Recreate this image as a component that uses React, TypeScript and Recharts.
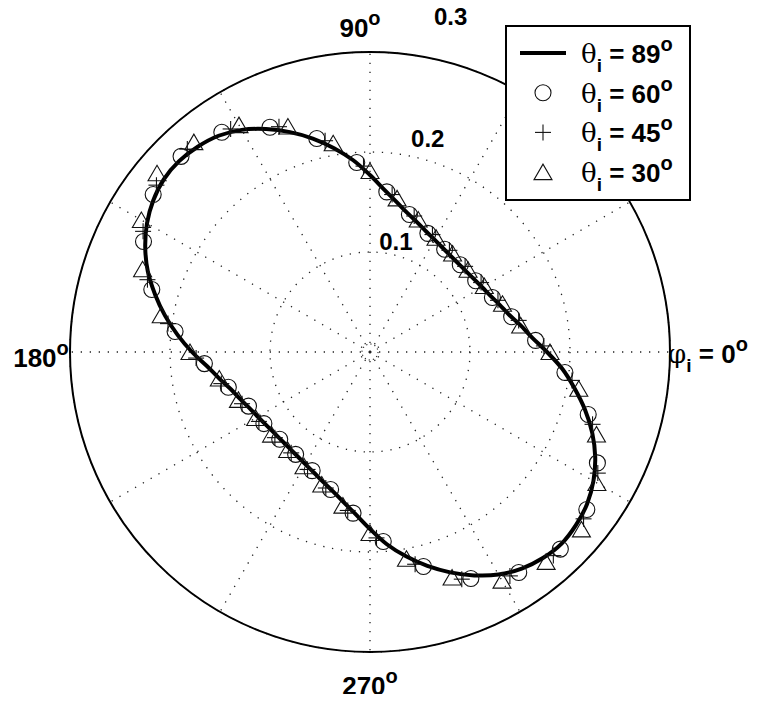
import React from 'react';
import { RadarChart, Radar, PolarGrid, PolarAngleAxis, PolarRadiusAxis, Legend } from 'recharts';

const W = 758;
const H = 702;
const CX = 370;
const CY = 352;
const OUTER = 300;
const LABEL_R = 330;

// azimuth samples (deg) and radial values for each incidence angle
const PHI_89 = [
  0, 5, 10, 15, 20, 25, 30, 35, 40, 45, 50, 55, 60, 65, 70, 75, 80, 85,
  90, 95, 100, 105, 110, 115, 120, 125, 130, 135, 140, 145, 150, 155, 160, 165, 170, 175,
  180, 185, 190, 195, 200, 205, 210, 215, 220, 225, 230, 235, 240, 245, 250, 255, 260, 265,
  270, 275, 280, 285, 290, 295, 300, 305, 310, 315, 320, 325, 330, 335, 340, 345, 350, 355,
];
const R_89 = [
  0.177, 0.163, 0.153, 0.144, 0.138, 0.133, 0.1295, 0.127, 0.1255, 0.125, 0.1255, 0.127, 0.1295, 0.133, 0.138, 0.144, 0.1525, 0.163,
  0.177, 0.1925, 0.207, 0.221, 0.234, 0.246, 0.2565, 0.264, 0.268, 0.270, 0.269, 0.2645, 0.2575, 0.248, 0.2365, 0.2225, 0.208, 0.193,
  0.178, 0.1635, 0.153, 0.144, 0.138, 0.133, 0.1295, 0.127, 0.1255, 0.125, 0.1255, 0.127, 0.1295, 0.133, 0.138, 0.144, 0.1525, 0.163,
  0.177, 0.193, 0.2075, 0.2215, 0.2345, 0.2465, 0.257, 0.2645, 0.269, 0.271, 0.269, 0.265, 0.258, 0.2485, 0.2365, 0.2225, 0.2075, 0.193,
];

const PHI_60 = [
  4, 14, 24, 34, 44, 54, 64, 74, 84, 94, 104, 114, 124, 134, 144, 154, 164, 174,
  184, 194, 204, 214, 224, 234, 244, 254, 264, 274, 284, 294, 304, 314, 324, 334, 344, 354,
];
const R_60 = [
  0.166, 0.146, 0.134, 0.1275, 0.1255, 0.127, 0.132, 0.143, 0.161, 0.190, 0.220, 0.246, 0.265, 0.272, 0.268, 0.252, 0.227, 0.196,
  0.166, 0.146, 0.133, 0.128, 0.1255, 0.1265, 0.132, 0.143, 0.162, 0.190, 0.221, 0.248, 0.266, 0.274, 0.268, 0.253, 0.227, 0.196,
];

const PHI_45 = [
  2, 12, 22, 32, 42, 52, 62, 72, 82, 92, 102, 112, 122, 132, 142, 152, 162, 172,
  182, 192, 202, 212, 222, 232, 242, 252, 262, 272, 282, 292, 302, 312, 322, 332, 342, 352,
];
const R_45 = [
  0.174, 0.152, 0.138, 0.131, 0.128, 0.129, 0.133, 0.143, 0.159, 0.186, 0.216, 0.243, 0.263, 0.273, 0.271, 0.257, 0.234, 0.204,
  0.174, 0.152, 0.138, 0.131, 0.128, 0.128, 0.133, 0.143, 0.160, 0.186, 0.217, 0.245, 0.264, 0.274, 0.271, 0.258, 0.234, 0.204,
];

const PHI_30 = [
  0, 10, 20, 30, 40, 50, 60, 70, 80, 90, 100, 110, 120, 130, 140, 150, 160, 170,
  180, 190, 200, 210, 220, 230, 240, 250, 260, 270, 280, 290, 300, 310, 320, 330, 340, 350,
];
const R_30 = [
  0.180, 0.153, 0.141, 0.132, 0.128, 0.1285, 0.132, 0.141, 0.156, 0.181, 0.212, 0.240, 0.262, 0.274, 0.278, 0.264, 0.242, 0.212,
  0.180, 0.153, 0.140, 0.132, 0.1285, 0.128, 0.132, 0.141, 0.156, 0.181, 0.210, 0.240, 0.264, 0.274, 0.276, 0.262, 0.241, 0.212,
];

const ANGLE_TICKS = [0, 30, 60, 90, 120, 150, 180, 210, 240, 270, 300, 330];
const LABELED_ANGLES = [0, 90, 180, 270];
const RADIUS_TICKS = [0.1, 0.2, 0.3];
const R_MAX = 0.3;

const SERIES = [
  { key: 'r89', theta: 89, marker: 'line' },
  { key: 'r60', theta: 60, marker: 'circle' },
  { key: 'r45', theta: 45, marker: 'plus' },
  { key: 'r30', theta: 30, marker: 'triangle' },
];

const rowsByPhi = new Map<number, any>();
const addSeries = (key: string, phis: number[], values: number[]) => {
  phis.forEach((phi, i) => {
    const row = rowsByPhi.get(phi) ?? { phi };
    row[key] = values[i];
    rowsByPhi.set(phi, row);
  });
};
addSeries('r89', PHI_89, R_89);
addSeries('r60', PHI_60, R_60);
addSeries('r45', PHI_45, R_45);
addSeries('r30', PHI_30, R_30);
const data = [...rowsByPhi.values()].sort((a, b) => a.phi - b.phi);

const FONT = '"Liberation Sans", Arial, Helvetica, sans-serif';
const SERIF = '"DejaVu Serif", "Liberation Serif", serif';

const hasValue = (p: any) => typeof p?.value === 'number' && Number.isFinite(p.x) && Number.isFinite(p.y);

// closed Catmull-Rom curve through the radar points
const smoothClosedPath = (pts: { x: number; y: number }[]) => {
  const n = pts.length;
  if (n < 3) return '';
  let d = `M${pts[0].x},${pts[0].y}`;
  for (let i = 0; i < n; i++) {
    const p0 = pts[(i - 1 + n) % n];
    const p1 = pts[i];
    const p2 = pts[(i + 1) % n];
    const p3 = pts[(i + 2) % n];
    const c1x = p1.x + (p2.x - p0.x) / 6;
    const c1y = p1.y + (p2.y - p0.y) / 6;
    const c2x = p2.x - (p3.x - p1.x) / 6;
    const c2y = p2.y - (p3.y - p1.y) / 6;
    d += ` C${c1x},${c1y} ${c2x},${c2y} ${p2.x},${p2.y}`;
  }
  return d + 'Z';
};

const LineShape = (props: any) => {
  const pts = (props.points || []).filter(hasValue);
  return <path d={smoothClosedPath(pts)} fill="none" stroke="#000" strokeWidth={4} strokeLinejoin="round" />;
};

const MarkerGlyph = ({ kind, x, y }: { kind: string; x: number; y: number }) => {
  const s = { fill: 'none', stroke: '#111', strokeWidth: 1.1 };
  if (kind === 'circle') return <circle cx={x} cy={y} r={8} {...s} />;
  if (kind === 'plus')
    return (
      <g {...s}>
        <line x1={x - 8} y1={y} x2={x + 8} y2={y} />
        <line x1={x} y1={y - 8} x2={x} y2={y + 8} />
      </g>
    );
  if (kind === 'triangle')
    return <polygon points={`${x},${y - 8} ${x - 9},${y + 7.5} ${x + 9},${y + 7.5}`} {...s} />;
  return <line x1={x - 23} y1={y} x2={x + 23} y2={y} stroke="#000" strokeWidth={4} />;
};

const markerDot = (kind: string, key: string) => (props: any) => {
  const { cx, cy, index, payload } = props;
  const row = payload?.payload ?? payload;
  const v = row?.[key];
  if (typeof v !== 'number' || !Number.isFinite(cx) || !Number.isFinite(cy)) return <g key={`${kind}-${index}`} />;
  return (
    <g key={`${kind}-${index}`}>
      <MarkerGlyph kind={kind} x={cx} y={cy} />
    </g>
  );
};

const Degree = () => (
  <tspan dy={-12} fontSize={20}>
    o
  </tspan>
);

// text nudges for the four compass labels
const ANGLE_NUDGE: Record<number, [number, number]> = {
  0: [8, 11],
  90: [-10, 15],
  180: [1, 15],
  270: [0, 13],
};

const AngleTick = (props: any) => {
  const { payload } = props;
  const v = Math.round(payload?.value);
  if (!LABELED_ANGLES.includes(v) || payload.value >= 360) return <g />;
  const a = (payload.coordinate * Math.PI) / 180;
  const [dx, dy] = ANGLE_NUDGE[v];
  const x = CX + LABEL_R * Math.cos(a) + dx;
  const y = CY - LABEL_R * Math.sin(a) + dy;
  if (v === 0) {
    return (
      <text x={x} y={y} textAnchor="middle" fontFamily={FONT} fontWeight="bold" fontSize={26} fill="#000">
        <tspan fontFamily={SERIF} fontWeight="normal">φ</tspan>
        <tspan dy={9} fontSize={19}>i</tspan>
        <tspan dy={-9}> = 0</tspan>
        <Degree />
      </text>
    );
  }
  return (
    <text x={x} y={y} textAnchor="middle" fontFamily={FONT} fontWeight="bold" fontSize={26} fill="#000">
      {v}
      <Degree />
    </text>
  );
};

// radial labels sit along the 75 degree ray
const R_LABEL_ANGLE = 75;
const R_NUDGE: Record<string, [number, number]> = {
  '0.1': [0, -5],
  '0.2': [6, -12],
  '0.3': [3, -37],
};

const RadiusTick = (props: any) => {
  const { payload } = props;
  const label = Number(payload?.value).toFixed(1);
  if (!R_NUDGE[label]) return <g />;
  const a = (R_LABEL_ANGLE * Math.PI) / 180;
  const [dx, dy] = R_NUDGE[label];
  const x = CX + payload.coordinate * Math.cos(a) + dx;
  const y = CY - payload.coordinate * Math.sin(a) + dy;
  return (
    <text x={x} y={y} textAnchor="middle" fontFamily={FONT} fontWeight="bold" fontSize={24} fill="#000">
      {label}
    </text>
  );
};

const LegendBox = ({ payload }: any) => {
  const keys = (payload || []).map((p: any) => p.dataKey);
  const items = SERIES.filter((s) => keys.includes(s.key));
  return (
    <div style={{ width: 186, height: 176, boxSizing: 'border-box', border: '2px solid #000', background: '#fff' }}>
      <svg width={182} height={172} style={{ display: 'block' }}>
        {items.map((s, i) => {
          const y = 26 + i * 39.7;
          return (
            <g key={s.key}>
              <MarkerGlyph kind={s.marker} x={36} y={y} />
              <text x={74} y={y + 10} fontFamily={FONT} fontWeight="bold" fontSize={26} fill="#000">
                <tspan fontFamily={SERIF} fontWeight="normal">θ</tspan>
                <tspan dy={9} fontSize={19}>i</tspan>
                <tspan dy={-9}>{` = ${s.theta}`}</tspan>
                <Degree />
              </text>
            </g>
          );
        })}
      </svg>
    </div>
  );
};

export default function App() {
  return (
    <div style={{ margin: -8, width: W, height: H }}>
      <RadarChart
        width={W}
        height={H}
        data={data}
        cx={CX}
        cy={CY}
        innerRadius={0}
        outerRadius={OUTER}
        startAngle={0}
        endAngle={360}
        margin={{ top: 0, right: 0, bottom: 0, left: 0 }}
      >
        <PolarGrid
          gridType="circle"
          polarRadius={RADIUS_TICKS.map((t) => (t / R_MAX) * OUTER)}
          stroke="#222"
          strokeWidth={1.3}
          strokeDasharray="1.3 7.7"
        />
        <PolarGrid gridType="circle" polarRadius={[8]} polarAngles={[]} radialLines={false} stroke="#222" strokeWidth={1.1} strokeDasharray="1.2 3" />
        <PolarAngleAxis
          dataKey="phi"
          type="number"
          domain={[0, 360]}
          ticks={ANGLE_TICKS as any}
          tickCount={13}
          axisLineType="circle"
          axisLine={{ stroke: '#000', strokeWidth: 2 }}
          tickLine={false}
          tick={<AngleTick />}
        />
        <PolarRadiusAxis
          type="number"
          domain={[0, R_MAX]}
          ticks={RADIUS_TICKS as any}
          tickCount={4}
          angle={R_LABEL_ANGLE}
          axisLine={false}
          tick={<RadiusTick />}
        />
        {SERIES.map((s) =>
          s.marker === 'line' ? (
            <Radar
              key={s.key}
              name={`θi = ${s.theta}°`}
              dataKey={s.key}
              fill="none"
              stroke="#000"
              strokeWidth={4}
              shape={<LineShape />}
              dot={false}
              isAnimationActive={false}
            />
          ) : (
            <Radar
              key={s.key}
              name={`θi = ${s.theta}°`}
              dataKey={s.key}
              fill="none"
              stroke="none"
              shape={() => <g />}
              dot={markerDot(s.marker, s.key)}
              isAnimationActive={false}
            />
          )
        )}
        <Legend
          align="left"
          verticalAlign="top"
          layout="vertical"
          content={<LegendBox />}
          wrapperStyle={{ left: 505, top: 25, width: 186, height: 176 }}
        />
      </RadarChart>
    </div>
  );
}
